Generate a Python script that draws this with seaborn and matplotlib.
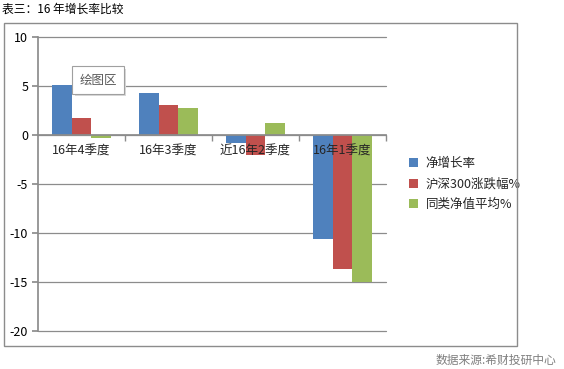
import matplotlib
matplotlib.use("Agg")
import matplotlib.pyplot as plt
import seaborn as sns
import pandas as pd
from matplotlib.patches import Rectangle

categories = ["16年4季度", "16年3季度", "近16年2季度", "16年1季度"]
series_names = ["净增长率", "沪深300涨跌幅%", "同类净值平均%"]
net_growth = [5.1, 4.3, -0.8, -10.6]
hs300 = [1.8, 3.1, -2.0, -13.7]
peer_avg = [-0.3, 2.8, 1.2, -15.0]
y_ticks = [10, 5, 0, -5, -10, -15, -20]

colors = ["#4F81BD", "#C0504D", "#9BBB59"]

sns.set_theme(style="white")
plt.rcParams['font.family'] = ['Noto Sans CJK SC', 'DejaVu Sans']

rows = []
for name, vals in zip(series_names, [net_growth, hs300, peer_avg]):
    for c, v in zip(categories, vals):
        rows.append({"cat": c, "series": name, "val": v})
df = pd.DataFrame(rows)

fig = plt.figure(figsize=(5.64, 3.69), dpi=100)
ax = fig.add_axes([38/564, 1-331/369, (386-38)/564, (331-37.3)/369])

sns.barplot(data=df, x="cat", y="val", hue="series", order=categories,
            hue_order=series_names, palette=colors, width=0.68,
            saturation=1, ax=ax, errorbar=None, legend=True, linewidth=0)

ax.set_ylim(-20, 10)
ax.set_xlim(-0.5, 3.5)
ax.set_yticks(y_ticks)
ax.set_yticklabels([str(t) for t in y_ticks], fontsize=9, color="#000000")
ax.yaxis.grid(True, color="#8c8c8c", linewidth=0.9)
for gl in ax.get_ygridlines():
    gl.set_clip_on(False)
ax.set_axisbelow(True)
ax.xaxis.set_zorder(5)
ax.set_xlabel("")
ax.set_ylabel("")

for s in ["top", "right"]:
    ax.spines[s].set_visible(False)
ax.spines["left"].set_color("#8c8c8c")
ax.spines["bottom"].set_color("#8c8c8c")
ax.spines["bottom"].set_position(("data", 0))
ax.spines["bottom"].set_zorder(3)

ax.tick_params(axis="y", length=4, color="#8c8c8c", direction="out", left=True, pad=3)
ax.set_xticks(range(len(categories)))
ax.set_xticklabels(categories, fontsize=9)
ax.tick_params(axis="x", which="major", length=0, pad=7)
ax.set_xticks([0.5, 1.5, 2.5, 3.5], minor=True)
ax.tick_params(axis="x", which="minor", length=4, color="#8c8c8c", bottom=True, direction="out")

handles, labels = ax.get_legend_handles_labels()
ax.legend(handles, labels, loc="center left", bbox_to_anchor=(398/564, 1-184/369),
          bbox_transform=fig.transFigure, frameon=False, fontsize=9,
          handlelength=0.7, handleheight=0.7, handletextpad=0.6, labelspacing=0.6)

# outer chart frame
fig.patches.append(Rectangle((4/564, 1-346/369), (517-4)/564, (346-23)/369,
                             transform=fig.transFigure, fill=False,
                             edgecolor="#8c8c8c", linewidth=1.0))

# plot area tooltip with shadow
fig.patches.append(Rectangle((75/564, 1-96/369), 51/564, 27/369,
                             transform=fig.transFigure, facecolor="#d9d9d9",
                             edgecolor="none", zorder=4))
fig.text(98/564, 1-80/369, "绘图区", fontsize=9, color="#595959", ha="center", va="center",
         zorder=5,
         bbox=dict(boxstyle="square,pad=0.6", facecolor="white", edgecolor="#a0a0a0", linewidth=0.8))

fig.text(2/564, 1-9/369, "表三：16 年增长率比较", fontsize=8.5, ha="left", va="center", color="#000000")
fig.text(556/564, 1-360/369, "数据来源:希财投研中心", fontsize=8.5, ha="right", va="center", color="#7f7f7f")

fig.savefig("out.png", dpi=100, facecolor="white")
